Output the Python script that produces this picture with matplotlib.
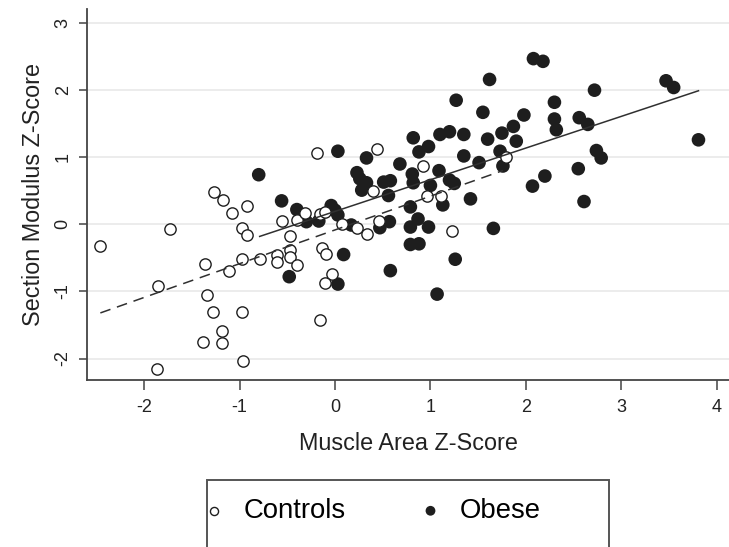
import matplotlib
matplotlib.use("Agg")
import matplotlib.pyplot as plt
from matplotlib.patches import Rectangle
import numpy as np

plt.rcParams['font.family'] = ['Liberation Sans', 'DejaVu Sans']

# Muscle area (x) and section modulus (y) z-scores
controls_x = [-2.46, -1.73, -1.87, -1.86, -1.38, -1.36, -1.34, -1.28, -1.27, -1.19,
              -1.18, -1.17, -1.11, -1.08, -0.98, -0.98, -0.97, -0.96, -0.92, -0.92,
              -0.79, -0.61, -0.61, -0.56, -0.47, -0.47, -0.47, -0.40, -0.40, -0.31,
              -0.16, -0.11, -0.19, 0.44, 0.07, 0.23, 0.33, 0.46, 0.40, -0.14,
              -0.09, -0.03, -0.10, -0.16, 0.92, 0.96, 1.11, 1.23, 1.79]
controls_y = [-0.32, -0.07, -2.16, -0.92, -1.76, -0.59, -1.06, -1.31, 0.48, -1.77,
              -1.59, 0.37, -0.69, 0.17, -0.05, -0.52, -1.30, -2.04, 0.28, -0.16,
              -0.51, -0.46, -0.56, 0.05, -0.18, -0.38, -0.49, -0.60, 0.07, 0.17,
              0.15, 0.18, 1.06, 1.12, 0.01, -0.06, -0.14, 0.05, 0.50, -0.35,
              -0.44, -0.74, -0.88, -1.43, 0.87, 0.42, 0.43, -0.10, 1.01]

obese_x = [-0.80, -0.56, -0.40, -0.48, -0.30, -0.17, -0.04, 0.00, 0.03, 0.03,
           0.09, 0.03, 0.17, 0.33, 0.23, 0.26, 0.33, 0.28, 0.51, 0.58,
           0.56, 0.47, 0.57, 0.58, 0.68, 0.82, 0.88, 0.98, 0.81, 0.82,
           0.79, 0.87, 0.79, 0.98, 0.79, 0.88, 1.00, 1.09, 1.10, 1.20,
           1.35, 1.35, 1.20, 1.25, 1.13, 1.42, 1.26, 1.07, 1.27, 1.55,
           1.60, 1.51, 1.62, 1.66, 1.75, 1.73, 1.76, 1.87, 1.90, 1.98,
           2.07, 2.08, 2.18, 2.20, 2.30, 2.30, 2.32, 2.56, 2.65, 2.55,
           2.61, 2.72, 2.74, 2.79, 3.47, 3.55, 3.81]
obese_y = [0.74, 0.35, 0.22, -0.78, 0.04, 0.05, 0.28, 0.21, 0.14, 1.09,
           -0.45, -0.89, -0.01, 0.99, 0.77, 0.68, 0.62, 0.51, 0.63, 0.65,
           0.43, -0.05, 0.04, -0.69, 0.90, 1.29, 1.08, 1.16, 0.75, 0.62,
           0.26, 0.08, -0.04, -0.04, -0.30, -0.29, 0.58, 0.80, 1.34, 1.38,
           1.34, 1.02, 0.66, 0.61, 0.29, 0.38, -0.52, -1.04, 1.85, 1.67,
           1.27, 0.92, 2.16, -0.06, 1.36, 1.09, 0.87, 1.46, 1.24, 1.63,
           0.57, 2.47, 2.43, 0.72, 1.82, 1.57, 1.41, 1.59, 1.49, 0.83,
           0.34, 2.00, 1.10, 0.99, 2.14, 2.04, 1.26]

# Linear fits: (slope, intercept) and the x range each fit spans
controls_fit = [0.503, -0.083]
controls_fit_range = [-2.46, 1.76]
obese_fit = [0.472, 0.193]
obese_fit_range = [-0.79, 3.81]

x_ticks = [-2, -1, 0, 1, 2, 3, 4]
y_ticks = [-2, -1, 0, 1, 2, 3]

W, H = 729, 547
fig = plt.figure(figsize=(W / 100, H / 100), dpi=100)
ax = fig.add_axes([87 / W, 1 - 380 / H, (W - 87) / W, (380 - 9) / H])

ink = '#1e1e1e'
txt = '#222222'
ax.scatter(obese_x, obese_y, s=96, c=ink, edgecolors='none', zorder=3, label='Obese')
ax.scatter(controls_x, controls_y, s=66, facecolors='white', edgecolors=ink,
           linewidths=1.0, zorder=4, label='Controls')

for (slope, icpt), (x0, x1), ls in [(controls_fit, controls_fit_range, (0, (7, 4.5))),
                                     (obese_fit, obese_fit_range, '-')]:
    xs = np.array([x0, x1])
    ax.plot(xs, slope * xs + icpt, color='#303030', lw=1.1, ls=ls, zorder=5)

ax.set_xlim(-2.60, 4.13)
ax.set_ylim(-2.32, 3.21)
ax.set_xticks(x_ticks)
ax.set_yticks(y_ticks)
ax.set_xticklabels([str(v) for v in x_ticks], fontsize=13, color=txt)
ax.set_yticklabels([str(v) for v in y_ticks], fontsize=13, color=txt,
                   rotation=90, va='center')
ax.tick_params(axis='x', direction='out', length=7, width=1.1, color='#444444', pad=7)
ax.tick_params(axis='y', direction='out', length=6, width=1.1, color='#444444', pad=5)
ax.yaxis.grid(True, color='#ececec', lw=1.4)
ax.set_axisbelow(True)
for side in ['top', 'right']:
    ax.spines[side].set_visible(False)
for side in ['left', 'bottom']:
    ax.spines[side].set_color('#444444')
    ax.spines[side].set_linewidth(1.3)

ax.set_xlabel('Muscle Area Z-Score', fontsize=16.8, color=txt, va='center')
ax.set_ylabel('Section Modulus Z-Score', fontsize=16.8, color=txt, va='center')
ax.xaxis.set_label_coords(0.5, (380 - 443.5) / 371)
ax.yaxis.set_label_coords((34 - 87) / 642, 0.5)

# Legend panel below the plot
fig.add_artist(Rectangle((207 / W, -0.2), (609 - 207) / W, 0.2 + 1 - 480 / H,
                         transform=fig.transFigure, fill=False,
                         edgecolor='#555555', lw=1.4, clip_on=False))
handles, labels = ax.get_legend_handles_labels()
fig.legend(handles[::-1], labels[::-1], ncol=2, loc='center left',
           bbox_to_anchor=(206 / W, 1 - 511 / H), frameon=False, fontsize=19.8,
           markerscale=0.72, handlelength=0.6, handletextpad=0.75,
           columnspacing=2.8, borderpad=0, borderaxespad=0)

fig.savefig('out.png', dpi=100)
